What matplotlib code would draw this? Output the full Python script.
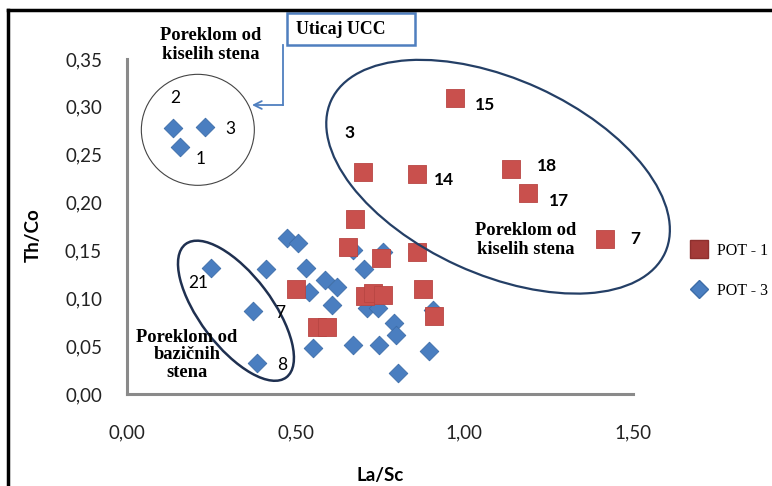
import numpy as np
import matplotlib
matplotlib.use("Agg")
import matplotlib.pyplot as plt
from matplotlib.patches import Ellipse, Rectangle
from matplotlib.lines import Line2D
from matplotlib.transforms import ScaledTranslation

# POT - 1 (kvadrati)
pot1_x = [0.972, 0.700, 0.860, 1.138, 1.189, 1.417, 0.676, 0.655, 0.753, 0.860,
          0.501, 0.878, 0.706, 0.729, 0.759, 0.910, 0.563, 0.593]
pot1_y = [0.309, 0.232, 0.230, 0.235, 0.210, 0.162, 0.183, 0.154, 0.142, 0.148,
          0.110, 0.110, 0.102, 0.106, 0.103, 0.082, 0.070, 0.070]

# POT - 3 (rombovi)
pot3_x = [0.136, 0.231, 0.157, 0.249, 0.412, 0.374, 0.385, 0.474, 0.507, 0.531,
          0.540, 0.587, 0.623, 0.608, 0.551, 0.670, 0.747, 0.792, 0.798, 0.803,
          0.895, 0.703, 0.712, 0.744, 0.670, 0.759, 0.907]
pot3_y = [0.278, 0.279, 0.258, 0.132, 0.131, 0.087, 0.032, 0.163, 0.158, 0.132,
          0.107, 0.119, 0.112, 0.093, 0.048, 0.051, 0.051, 0.074, 0.062, 0.022,
          0.045, 0.131, 0.090, 0.090, 0.150, 0.148, 0.088]

xticks = [0.0, 0.5, 1.0, 1.5]
yticks = [0.0, 0.05, 0.10, 0.15, 0.20, 0.25, 0.30, 0.35]

# oznake uzoraka: (tekst, x, y, bold)
oznake = [("15", 1.061, 0.302, True), ("3", 0.661, 0.273, True), ("14", 0.940, 0.224, True),
          ("18", 1.245, 0.238, True), ("17", 1.281, 0.202, True), ("7", 1.506, 0.162, True),
          ("2", 0.142, 0.309, False), ("3", 0.305, 0.277, False), ("1", 0.219, 0.245, False),
          ("21", 0.210, 0.116, False), ("7", 0.454, 0.085, False), ("8", 0.460, 0.030, False)]

sans = ["Lato", "DejaVu Sans"]
serif = ["Liberation Serif", "DejaVu Serif"]

fig = plt.figure(figsize=(7.72, 4.86), dpi=100)
ax = fig.add_axes([127/772, 92/486, 506/772, 335/486])

ax.scatter(pot3_x, pot3_y, marker="D", s=90, color="#4A7EC0", edgecolors="#3D6DA8", linewidths=0.6, zorder=3)
ax.scatter(pot1_x, pot1_y, marker="s", s=180, color="#C9504D", edgecolors="#B84643", linewidths=0.6, zorder=4)

ax.set_xlim(0, 1.5)
ax.set_ylim(0, 0.35)
ax.set_xticks(xticks)
ax.set_yticks(yticks)
ax.set_xticklabels([f"{v:.2f}".replace(".", ",") for v in xticks], family=sans, fontsize=13.5, color="#222222")
ax.set_yticklabels([f"{v:.2f}".replace(".", ",") for v in yticks], family=sans, fontsize=13.5, color="#222222")
ax.tick_params(axis="x", length=0, pad=22)
ax.tick_params(axis="y", length=0, pad=18)
for s in ["top", "right"]:
    ax.spines[s].set_visible(False)
for s in ["left", "bottom"]:
    ax.spines[s].set_color("#8A8A8A")
    ax.spines[s].set_linewidth(2.2)

fig.text(380/772, 1 - 475/486, "La/Sc", family=sans, fontsize=13.5, fontweight="bold", ha="center", va="center")
fig.text(33/772, 1 - 235/486, "Th/Co", family=sans, fontsize=13.5, fontweight="bold", ha="center", va="center", rotation=90)

# elipse (velicina u incima, centar u podacima)
def elipsa(cx, cy, w, h, ang, lw, col):
    tr = fig.dpi_scale_trans + ScaledTranslation(cx, cy, ax.transData)
    e = Ellipse((0, 0), w, h, angle=ang, fill=False, lw=lw, edgecolor=col, transform=tr, clip_on=False, zorder=5)
    ax.add_patch(e)

elipsa(1.100, 0.227, 3.67, 1.95, -24.5, 1.6, "#243F66")
elipsa(0.323, 0.087, 1.67, 0.72, -52.9, 1.8, "#1F3050")
elipsa(0.210, 0.276, 1.13, 1.11, 0, 0.8, "#444444")

for t, x, y, b in oznake:
    ax.text(x, y, t, family=sans, fontsize=12.5, fontweight="bold" if b else "normal",
            ha="center", va="center", zorder=6)

ax.text(1.183, 0.161, "Poreklom od\nkiselih stena", family=serif, fontsize=13.3, fontweight="bold",
        ha="center", va="center", linespacing=1.15, zorder=6)
ax.text(0.249, 0.365, "Poreklom od\nkiselih stena", family=serif, fontsize=13.3, fontweight="bold",
        ha="center", va="center", linespacing=1.15, zorder=6)
ax.text(0.178, 0.041, "Poreklom od\nbazičnih\nstena", family=serif, fontsize=13.3, fontweight="bold",
        ha="center", va="center", linespacing=1.05, zorder=6)

# Uticaj UCC okvir i strelica
fig.patches.append(Rectangle((287/772, 1 - 45/486), 128/772, 32/486, transform=fig.transFigure,
                             fill=False, edgecolor="#4F7FBF", lw=1.8))
fig.text(296/772, 1 - 29/486, "Uticaj UCC", family=serif, fontsize=12.8, fontweight="bold", va="center")
fig.lines.append(Line2D([283/772, 283/772], [1 - 45/486, 1 - 105/486], transform=fig.transFigure,
                        color="#4F7FBF", lw=1.3))
ax.annotate("", xy=(252/772, 1 - 105/486), xytext=(283/772, 1 - 105/486), xycoords="figure fraction",
            textcoords="figure fraction",
            arrowprops=dict(arrowstyle="->", color="#4F7FBF", lw=1.3, mutation_scale=14, shrinkA=0, shrinkB=0))

# okvir slike
fig.lines.append(Line2D([8/772, 8/772], [0, 1 - 10/486], transform=fig.transFigure, color="black", lw=2.5))
fig.lines.append(Line2D([8/772, 1], [1 - 10/486, 1 - 10/486], transform=fig.transFigure, color="black", lw=2.5))

# legenda
h = [Line2D([], [], marker="s", ls="", markersize=13.5, color="#A33A38", markeredgecolor="#8E302E"),
     Line2D([], [], marker="D", ls="", markersize=9.5, color="#4A7EC0", markeredgecolor="#3D6DA8")]
fig.legend(h, ["POT - 1", "POT - 3"], loc="center left", bbox_to_anchor=(684/772, 1 - 271/486),
           frameon=False, prop={"family": serif, "size": 11.5}, labelspacing=1.5, handletextpad=0.65,
           borderpad=0, handlelength=0.9)

fig.savefig("out.png", dpi=100)
